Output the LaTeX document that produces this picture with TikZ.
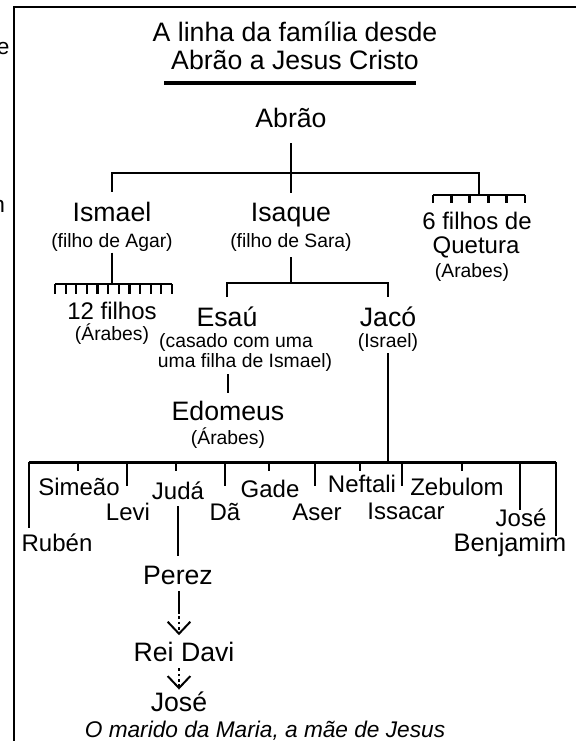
\documentclass[tikz,border=0pt]{standalone}
\usepackage{fontspec}
\setmainfont{Liberation Sans}
\usetikzlibrary{arrows.meta}

\tikzset{every picture/.style={line width=0.75pt}}
\tikzset{
	person/.style={inner sep=0pt, anchor=base, font=\fontsize{20}{24}\selectfont},
	kin/.style={inner sep=0pt, anchor=base, font=\fontsize{18}{22}\selectfont},
	remark/.style={inner sep=0pt, anchor=base, font=\fontsize{14.5}{17}\selectfont},
	scrap/.style={inner sep=0pt, anchor=base east, font=\fontsize{17}{20}\selectfont},
	tie/.style={line width=2pt},
	descent/.style={line width=1.5pt, dash pattern=on 2pt off 2pt, -{Straight Barb[width=17pt, length=9pt, line width=1.5pt]}}
}

\begin{document}
\begin{tikzpicture}[x=0.75pt,y=0.75pt,yscale=-1,xscale=1]
	\useasboundingbox (0,0) rectangle (576,741);

	%Shape: frame of the page
	\draw [line width=1.5pt] (576,7) -- (14,7) -- (14,741) ;
	% Text Node
	\node[scrap] (cut-e) at (10,55) {e};
	% Text Node
	\node[scrap] (cut-n) at (5.5,213) {n};

	% Text Node
	\node[person] (title-a) at (295,42) {A linha da família desde};
	% Text Node
	\node[person] (title-b) at (295,70) {Abrão a Jesus Cristo};
	\coordinate (rule-l) at (164,83);
	\coordinate (rule-r) at (416,83);
	\draw [line width=2.5pt] (rule-l) -- (rule-r) ;

	% Text Node
	\node[person] (abrao) at (291,128) {Abrão};
	% Text Node
	\node[person] (ismael) at (112,222) {Ismael};
	\node[remark] (agar) at (112,247.5) {(filho de Agar)};
	% Text Node
	\node[person] (isaque) at (291,222) {Isaque};
	\node[remark] (sara) at (291,247.5) {(filho de Sara)};
	% Text Node
	\node[kin] (quet-a) at (477,230) {6 filhos de};
	\node[kin] (quet-b) at (476,253) {Quetura};
	\node[remark] (quet-c) at (472,277) {(Arabes)};

	%Straight Lines: from Abrão
	\coordinate (fork-a) at (291,173);
	\coordinate (comb-q) at (479,195);
	\draw [tie, shorten <=11pt, shorten >=7.5pt] (abrao) -- (isaque) ;
	\draw [tie, shorten >=7.5pt] (comb-q) -- (comb-q |- fork-a) -- (ismael.north |- fork-a) -- (ismael.north) ;
	\draw [tie] (433,195) -- (525,195) ;
	\foreach \k in {0,...,5}
		\draw [tie] (433+\k*18.4,195) -- ++(0,8) ;

	%Straight Lines: Ismael
	\coordinate (comb-i) at (112,284);
	\draw [tie, shorten <=0.5pt] (agar.south) -- (comb-i) ;
	\draw [tie] (55,284) -- (172,284) ;
	\foreach \k in {0,...,11}
		\draw [line width=1.6pt] (55+\k*10.64,284) -- ++(0,10) ;
	% Text Node
	\node[kin] (filhos) at (112,319) {12 filhos};
	\node[remark] (arabes-i) at (112,340) {(Árabes)};

	% Text Node
	\node[person] (esau) at (227,326) {Esaú};
	\node[remark] (casado) at (236,347.5) {(casado com uma};
	\node[remark] (filha) at (245,367.5) {uma filha de Ismael)};
	% Text Node
	\node[person] (jaco) at (388,326) {Jacó};
	\node[remark] (israel) at (388,347.5) {(Israel)};

	%Straight Lines: Isaque
	\coordinate (fork-b) at (291,283);
	\draw [tie, shorten <=4pt] (sara.south) -- (fork-b) ;
	\draw [tie, shorten <=6.5pt, shorten >=6.5pt] (esau.north) -- (esau.north |- fork-b) -- (jaco.north |- fork-b) -- (jaco.north) ;

	% Text Node
	\node[person] (edomeus) at (228,420) {Edomeus};
	\node[remark] (arabes-e) at (228,444) {(Árabes)};
	\draw [tie, shorten <=1.5pt, shorten >=5.5pt] (edomeus.north |- filha.south) -- (edomeus.north) ;

	%Straight Lines: Jacó and his sons
	\coordinate (bar-l) at (29,462);
	\coordinate (bar-r) at (556,462);
	\draw [tie, shorten <=1pt] (israel.south) -- (israel.south |- bar-l) ;
	\draw [line width=2.25pt] (bar-l) -- (bar-r) ;
	\foreach \x/\e in {29/528, 78/471, 127/486, 176/471, 225/486, 269/471, 315/486, 360/471, 402/486, 462/471, 520/510, 556/536}
		\draw [tie] (\x,462) -- (\x,\e) ;

	% Text Node
	\node[kin] (ruben) at (57,551) {Rubén};
	\node[kin] (simeao) at (79,495) {Simeão};
	\node[kin] (levi) at (128,520) {Levi};
	\node[kin] (juda) at (178,499) {Judá};
	\node[kin] (da) at (225,520) {Dã};
	\node[kin] (gade) at (270,497) {Gade};
	\node[kin] (aser) at (317,520) {Aser};
	\node[kin] (neftali) at (362,492) {Neftali};
	\node[kin] (issacar) at (406,519) {Issacar};
	\node[kin] (zebulom) at (457,495) {Zebulom};
	\node[kin] (jose-f) at (521,526) {José};
	\node[kin, font=\fontsize{19}{22}\selectfont] (benjamim) at (510,551) {Benjamim};

	% Text Node
	\node[person] (perez) at (178,584) {Perez};
	\draw [tie, shorten <=5pt, shorten >=6.5pt] (juda) -- (perez) ;
	% Text Node
	\node[person] (davi) at (184,661) {Rei Davi};
	% Text Node
	\node[person] (jose) at (179,711) {José};
	% Text Node
	\node[inner sep=0pt, anchor=base, font=\fontsize{17}{20}\selectfont\itshape] (maria) at (265,737) {O marido da Maria, a mãe de Jesus};

	%Straight Lines: down to José
	\coordinate (dots-a) at (179,611);
	\draw [line width=1.5pt, shorten <=5pt] (perez.south -| dots-a) -- (dots-a) ;
	\draw [descent, shorten >=4.5pt] (dots-a) -- (dots-a |- davi.north) ;
	\draw [descent, shorten <=5pt, shorten >=1pt] (davi.south -| jose) -- (jose.north) ;

\end{tikzpicture}
\end{document}
